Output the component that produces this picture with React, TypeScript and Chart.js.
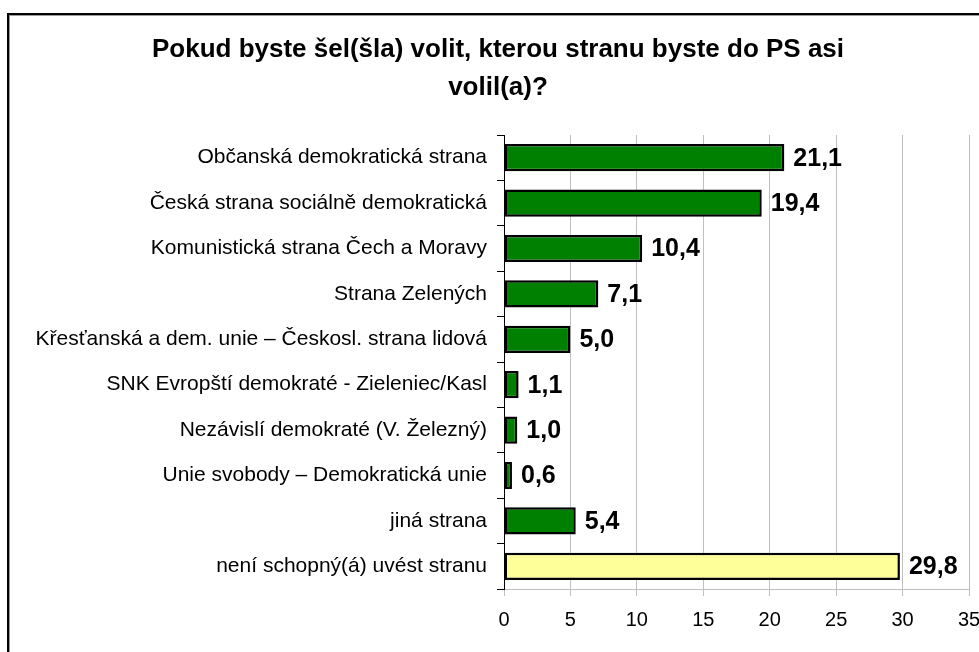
import React, { useEffect, useRef } from "react";
import { Chart, registerables } from "chart.js";

Chart.register(...registerables);

const titleLines = [
  "Pokud byste šel(šla) volit, kterou stranu byste do PS asi",
  "volil(a)?",
];
const categories = [
  "Občanská demokratická strana",
  "Česká strana sociálně demokratická",
  "Komunistická strana Čech a Moravy",
  "Strana Zelených",
  "Křesťanská a dem. unie – Českosl. strana lidová",
  "SNK Evropští demokraté - Zieleniec/Kasl",
  "Nezávislí demokraté (V. Železný)",
  "Unie svobody – Demokratická unie",
  "jiná strana",
  "není schopný(á) uvést stranu",
];
const values = [21.1, 19.4, 10.4, 7.1, 5.0, 1.1, 1.0, 0.6, 5.4, 29.8];
const barColors = [
  "#008000", "#008000", "#008000", "#008000", "#008000",
  "#008000", "#008000", "#008000", "#008000", "#FFFF99",
];
const xMin = 0;
const xMax = 35;
const xStep = 5;

const FONT = "'Liberation Sans', Arial, Helvetica, sans-serif";

const framePlugin = {
  id: "frame",
  beforeDraw(chart: any) {
    const ctx = chart.ctx;
    ctx.save();
    ctx.fillStyle = "#ffffff";
    ctx.fillRect(0, 0, chart.width, chart.height);
    ctx.fillStyle = "#000000";
    ctx.fillRect(7, 13, chart.width - 7, 2);
    ctx.fillRect(7, 13, 2, chart.height - 13);
    ctx.fillStyle = "#9a9a9a";
    ctx.fillRect(9, 15, chart.width - 9, 1);
    ctx.fillRect(9, 15, 1, chart.height - 15);
    // title
    ctx.fillStyle = "#000000";
    ctx.font = `bold 26px ${FONT}`;
    ctx.textAlign = "center";
    ctx.textBaseline = "middle";
    titleLines.forEach((line, i) => {
      ctx.fillText(line, 498, 50 + i * 38);
    });
    ctx.restore();
  },
};

const labelPlugin = {
  id: "barLabels",
  afterDatasetsDraw(chart: any) {
    const ctx = chart.ctx;
    const meta = chart.getDatasetMeta(0);
    ctx.save();
    ctx.fillStyle = "#000000";
    ctx.font = `bold 25px ${FONT}`;
    ctx.textAlign = "left";
    ctx.textBaseline = "middle";
    meta.data.forEach((bar: any, i: number) => {
      const txt = values[i].toFixed(1).replace(".", ",");
      ctx.fillText(txt, bar.x + 9, bar.y + 1);
    });
    ctx.restore();
  },
};

export default function App() {
  const ref = useRef<HTMLCanvasElement>(null);
  useEffect(() => {
    const chart = new Chart(ref.current as HTMLCanvasElement, {
      type: "bar",
      data: {
        labels: categories,
        datasets: [
          {
            data: values,
            backgroundColor: barColors,
            borderColor: "#000000",
            borderWidth: 2.5,
            borderSkipped: false,
            barPercentage: 0.6,
            categoryPercentage: 1,
          },
        ],
      },
      options: {
        indexAxis: "y",
        animation: false,
        responsive: false,
        maintainAspectRatio: false,
        layout: { padding: { top: 135, right: 10, bottom: 0, left: 0 } },
        plugins: {
          legend: { display: false },
          title: { display: false },
          tooltip: { enabled: false },
        },
        scales: {
          x: {
            type: "linear",
            min: xMin,
            max: xMax,
            ticks: {
              stepSize: xStep,
              color: "#000000",
              font: { family: FONT, size: 20 },
              padding: 12,
              maxRotation: 0,
            },
            grid: {
              color: "#c0c0c0",
              lineWidth: 1,
              tickLength: 7,
              drawTicks: true,
            },
            border: { color: "#c0c0c0", width: 1 },
            afterFit(scale: any) {
              scale.height = 63;
              scale.paddingLeft = 0;
              scale.paddingRight = 0;
            },
          },
          y: {
            type: "category",
            offset: true,
            ticks: {
              color: "#000000",
              font: { family: FONT, size: 21 },
              padding: 10,
              autoSkip: false,
            },
            grid: {
              offset: true,
              drawOnChartArea: false,
              color: "#000000",
              tickLength: 7,
            },
            border: { color: "#000000", width: 1 },
            afterFit(scale: any) {
              scale.width = 504;
              scale.paddingTop = 0;
              scale.paddingBottom = 0;
            },
          },
        },
      },
      plugins: [framePlugin, labelPlugin],
    });
    return () => chart.destroy();
  }, []);
  return (
    <div style={{ position: "absolute", left: 0, top: 0, width: 979, height: 652 }}>
      <canvas ref={ref} width={979} height={652} style={{ width: 979, height: 652, display: "block" }} />
    </div>
  );
}
